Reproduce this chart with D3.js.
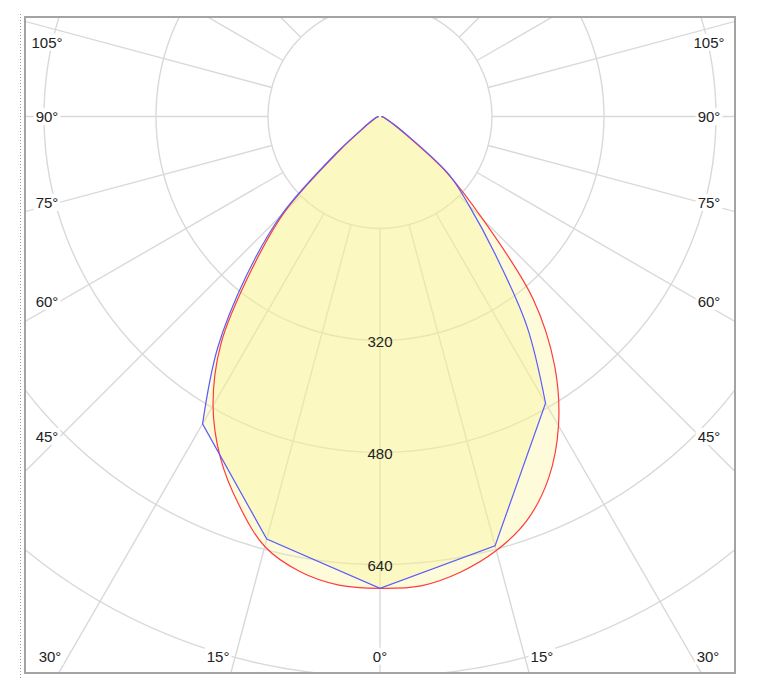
<!DOCTYPE html>
<html>
<head>
<meta charset="utf-8">
<script src="https://cdn.jsdelivr.net/npm/d3@7/dist/d3.min.js"></script>
<style>
  body { margin: 0; background: #fff; }
  text { font-family: "Liberation Sans", Arial, sans-serif; }
</style>
</head>
<body>
<svg id="chart"></svg>
<script>
// --------------------
//  data
// --------------------
// gamma angles (0 = straight down)
const redAngles = [0, 5, 10, 15, 20, 25, 30, 35, 40, 45, 50, 55, 60, 65, 70, 75, 80, 85, 90];
const redRight  = [674, 673, 661, 642, 614, 570, 510, 435, 340, 208, 124, 45, 22, 12, 8, 6, 4, 3, 2];
const redLeft   = [674, 672, 660, 636, 590, 539, 477, 396, 285, 193, 75, 28, 15, 10, 7, 5, 4, 3, 2];

const blueAngles = [0, 15, 30, 35, 40, 45, 50, 55, 60, 65, 70, 75, 80, 85, 90];
const blueRight  = [674, 635, 473, 366, 255, 180, 128, 52, 25, 14, 9, 6, 4, 3, 2];
const blueLeft   = [674, 625, 507, 405, 297, 200, 82, 32, 18, 11, 8, 6, 4, 3, 2];
const blueKink   = 30; // blue is straight between the measured points below this angle

const rings = [160, 320, 480, 640, 800, 960];
const ringLabels = [320, 480, 640];
const sideTicks = [45, 60, 75, 90, 105];
const bottomTicks = [0, 15, 30];

// --------------------
//  setup
// --------------------
const width = 758;
const height = 693;
const cx = 380, cy = 116.5;
const frame = {x: 25, y: 17, w: 710, h: 656};

const r = d3.scaleLinear().domain([0, 160]).range([0, 112]);

const svg = d3.select("#chart")
    .attr("width", width)
    .attr("height", height);

svg.append("defs").append("clipPath").attr("id", "clip")
    .append("rect")
    .attr("x", frame.x).attr("y", frame.y)
    .attr("width", frame.w).attr("height", frame.h);

// dotted guide at the far left
svg.append("line")
    .attr("x1", 20.5).attr("x2", 20.5)
    .attr("y1", 14).attr("y2", 680)
    .attr("stroke", "#999")
    .attr("stroke-dasharray", "1,2");

const plot = svg.append("g").attr("clip-path", "url(#clip)");
const g = plot.append("g").attr("transform", `translate(${cx},${cy})`);

// grid: rings
g.selectAll("circle.ring")
    .data(rings)
    .join("circle")
    .attr("class", "ring")
    .attr("r", d => r(d))
    .attr("fill", "none")
    .attr("stroke", "#d9d9d9")
    .attr("stroke-width", 1.4);

// grid: spokes every 15 deg (start at the first ring)
const toRad = d => d * Math.PI / 180;
g.selectAll("line.spoke")
    .data(d3.range(0, 360, 15))
    .join("line")
    .attr("class", "spoke")
    .attr("x1", d => r(160) * Math.sin(toRad(d)))
    .attr("y1", d => r(160) * Math.cos(toRad(d)))
    .attr("x2", d => 1000 * Math.sin(toRad(d)))
    .attr("y2", d => 1000 * Math.cos(toRad(d)))
    .attr("stroke", "#d9d9d9")
    .attr("stroke-width", 1.4);

// left half runs 90 -> 0 (angle pi + g), right half 0 -> 90 (angle pi - g)
function side(angles, values, sign, from, to) {
    const pts = [];
    angles.forEach((a, i) => {
        if (a >= from && a <= to) pts.push({a: Math.PI + sign * toRad(a), v: values[i]});
    });
    return sign > 0 ? pts.reverse() : pts;
}

const smooth = d3.lineRadial()
    .angle(d => d.a)
    .radius(d => r(d.v))
    .curve(d3.curveCatmullRom.alpha(0.5));

const straight = d3.lineRadial()
    .angle(d => d.a)
    .radius(d => r(d.v))
    .curve(d3.curveLinear);

const cont = s => "L" + s.slice(1);

const redPath = smooth(side(redAngles, redLeft, 1, 0, 90).concat(side(redAngles, redRight, -1, 5, 90)));

const bluePath =
    smooth(side(blueAngles, blueLeft, 1, blueKink, 90)) +
    cont(straight(side(blueAngles, blueLeft, 1, 0, blueKink).concat(side(blueAngles, blueRight, -1, 15, blueKink)))) +
    cont(smooth(side(blueAngles, blueRight, -1, blueKink, 90)));

const fillColor = "rgb(250,244,140)";
g.append("path")
    .attr("d", redPath + "Z")
    .attr("fill", fillColor)
    .attr("fill-opacity", 0.32);
g.append("path")
    .attr("d", bluePath + "Z")
    .attr("fill", fillColor)
    .attr("fill-opacity", 0.32);

g.append("path")
    .attr("d", redPath)
    .attr("fill", "none")
    .attr("stroke", "#ff3b3b")
    .attr("stroke-width", 1.2);
g.append("path")
    .attr("d", bluePath)
    .attr("fill", "none")
    .attr("stroke", "#5a5aff")
    .attr("stroke-width", 1.2);

// ring value labels along the 0 deg spoke
g.selectAll("text.ringlabel")
    .data(ringLabels)
    .join("text")
    .attr("class", "ringlabel")
    .attr("x", 0)
    .attr("y", d => r(d))
    .attr("dy", "0.42em")
    .attr("text-anchor", "middle")
    .attr("font-size", "15px")
    .attr("fill", "#222")
    .text(d => d);

// angle labels at the frame edge
const labels = [];
const leftX = 47, rightX = 709, bottomY = 656;
sideTicks.forEach(t => {
    const dy = (cx - leftX) * Math.cos(toRad(t)) / Math.sin(toRad(t));
    let y = cy + dy * 0.96;
    y = Math.max(y, 42);
    labels.push({x: leftX, y: y, t: t});
    labels.push({x: rightX, y: y, t: t});
});
bottomTicks.forEach(t => {
    const dx = (bottomY - cy) * Math.tan(toRad(t)) * 1.12;
    labels.push({x: Math.max(cx - dx, 50), y: bottomY, t: t});
    if (t > 0) labels.push({x: Math.min(cx + dx, 708), y: bottomY, t: t});
});

const lab = svg.append("g").selectAll("g")
    .data(labels)
    .join("g")
    .attr("transform", d => `translate(${d.x},${d.y})`);

lab.append("rect").attr("fill", "#fff");
lab.append("text")
    .attr("text-anchor", "middle")
    .attr("dy", "0.38em")
    .attr("font-size", "15px")
    .attr("fill", "#222")
    .text(d => d.t + "°");
lab.each(function() {
    const bb = d3.select(this).select("text").node().getBBox();
    d3.select(this).select("rect")
        .attr("x", bb.x - 2).attr("y", bb.y)
        .attr("width", bb.width + 4).attr("height", bb.height);
});

// frame
svg.append("rect")
    .attr("x", frame.x).attr("y", frame.y)
    .attr("width", frame.w).attr("height", frame.h)
    .attr("fill", "none")
    .attr("stroke", "#a3a3a3")
    .attr("stroke-width", 2);
</script>
</body>
</html>
